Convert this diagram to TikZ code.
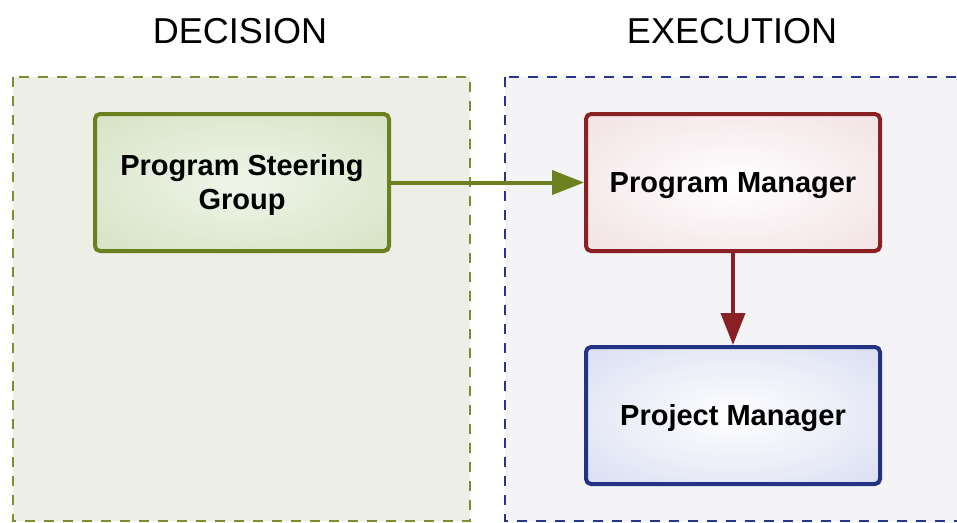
\documentclass[tikz,border=0pt]{standalone}
\usepackage{fontspec}
\setmainfont{Liberation Sans}
\usepackage{xcolor}
\usetikzlibrary{arrows.meta,positioning}
\definecolor{decgreen}{RGB}{108,128,32}
\definecolor{decdash}{RGB}{122,142,50}
\definecolor{decback}{RGB}{237,238,229}
\definecolor{exeblue}{RGB}{38,54,138}
\definecolor{exeback}{RGB}{244,244,247}
\definecolor{pmred}{RGB}{137,33,36}
\definecolor{pjblue}{RGB}{35,50,130}
\definecolor{steerout}{RGB}{203,220,182}
\definecolor{pmout}{RGB}{236,213,217}
\definecolor{pjout}{RGB}{203,209,237}
% soft glow fills for the boxes
\pgfdeclareradialshading{steerglow}{\pgfpoint{0bp}{0bp}}{color(0bp)=(white!70!steerout); color(50bp)=(steerout)}
\pgfdeclareradialshading{pmglow}{\pgfpoint{0bp}{0bp}}{color(0bp)=(white); color(50bp)=(pmout)}
\pgfdeclareradialshading{pjglow}{\pgfpoint{0bp}{0bp}}{color(0bp)=(white); color(50bp)=(pjout)}

\begin{document}
\begin{tikzpicture}[x=1pt, y=-1pt,
    rolebox/.style={rectangle, rounded corners=5pt, line width=4pt,
        minimum width=294pt, minimum height=137pt, align=center,
        font=\fontsize{29}{34}\selectfont\bfseries, text height=20.5pt, text depth=0pt},
    lane/.style={line width=2pt, dash pattern=on 10pt off 9pt},
    lanetitle/.style={font=\fontsize{36}{43}\selectfont, anchor=base},
    link/.style={line width=4pt, -{Triangle[length=32pt, width=24pt]}}]
\clip (0,0) rectangle (957,522);

% Lanes
\draw[lane, decdash, fill=decback] (13,77) rectangle (470,521);
\draw[lane, exeblue, fill=exeback] (505,77) rectangle (980,521);
\node[lanetitle] (dectitle) at (240,43) {DECISION};
\node[lanetitle] (exetitle) at (732,43) {EXECUTION};

% Roles
\node[rolebox, draw=decgreen, shading=steerglow, text height=54.5pt] (steer) at (242,182.5) {Program Steering\\Group};
\node[rolebox, draw=pmred, shading=pmglow, right=193pt of steer] (progman) {Program Manager};
\node[rolebox, draw=pjblue, shading=pjglow, below=92pt of progman] (projman) {Project Manager};

% Reporting lines
\draw[link, decgreen] (steer) -- (progman);
\draw[link, pmred] (progman) -- (projman);

\end{tikzpicture}
\end{document}
